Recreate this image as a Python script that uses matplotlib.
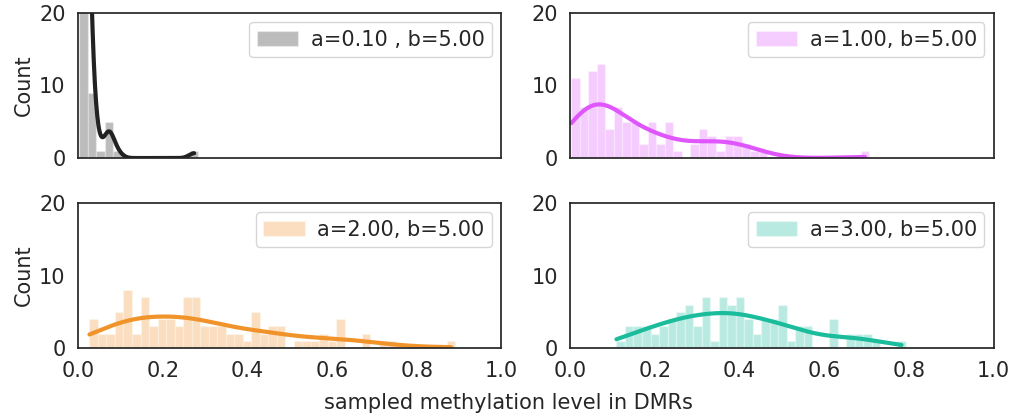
import numpy as np
import matplotlib
matplotlib.use("Agg")
from matplotlib import pyplot as plt

# histogram counts (100 samples per panel)
binwidth = 0.0201
bin_starts = [0.003, 0.0024, 0.027, 0.109]
counts_a010 = [83, 9, 1, 5, 1, 0, 0, 0, 0, 0, 0, 0, 0, 1]
counts_a100 = [11, 7, 12, 13, 4, 7, 5, 5, 2, 5, 2, 5, 1, 0, 2, 4, 3, 1, 3, 3, 2, 1, 1,
               0, 0, 0, 0, 0, 0, 0, 0, 0, 0, 0, 1]
counts_a200 = [4, 2, 2, 5, 8, 2, 7, 3, 4, 4, 3, 7, 7, 3, 3, 3, 2, 2, 1, 5, 2, 3, 3,
               0, 1, 1, 1, 2, 1, 4, 0, 0, 2, 0, 1, 1, 0, 0, 0, 0, 0, 0, 1]
counts_a300 = [1, 3, 3, 3, 2, 3, 4, 5, 6, 3, 7, 1, 7, 6, 7, 4, 2, 4, 4, 6, 1, 3, 3,
               0, 0, 4, 0, 2, 2, 2, 1, 0, 0, 1]
labels = ["a=0.10 , b=5.00", "a=1.00, b=5.00", "a=2.00, b=5.00", "a=3.00, b=5.00"]
colors = ["#222222", "#e056fd", "#f0932b", "#1abc9c"]
x_ticks = [0.0, 0.2, 0.4, 0.6, 0.8, 1.0]
y_ticks = [0, 10, 20]


def kde_curve(edges, counts, w):
    centers = (edges[:-1] + edges[1:]) / 2
    x = np.repeat(centers, counts)
    n = len(x)
    bw = x.std(ddof=1) * n ** (-1 / 5)
    grid = np.linspace(edges[0], edges[-1] - w / 2, 200)
    dens = np.exp(-0.5 * ((grid[:, None] - x[None, :]) / bw) ** 2).sum(1)
    dens = dens / (n * bw * np.sqrt(2 * np.pi))
    return grid, dens * n * w


plt.rcParams['font.family'] = ['DejaVu Sans']
plt.rcParams['text.color'] = '.15'
plt.rcParams['axes.labelcolor'] = '.15'
plt.rcParams['xtick.color'] = '.15'
plt.rcParams['ytick.color'] = '.15'

fig, axes = plt.subplots(2, 2, figsize=(10.16, 4.16), dpi=100, sharex=True)
fig.subplots_adjust(left=0.0768, right=0.978, bottom=0.163, top=0.969,
                    wspace=0.163, hspace=0.31)

all_counts = [counts_a010, counts_a100, counts_a200, counts_a300]
for i, ax in enumerate(axes.flat):
    cnt = np.array(all_counts[i])
    edges = bin_starts[i] + binwidth * np.arange(len(cnt) + 1)
    ax.bar(edges[:-1], cnt, width=binwidth, align='edge', color=colors[i],
           alpha=0.3, edgecolor='white', linewidth=1, label=labels[i])
    gx, gy = kde_curve(edges, cnt, binwidth)
    ax.plot(gx, gy, color=colors[i], lw=3, solid_capstyle='round')
    ax.set_xlim(0, 1)
    ax.set_ylim(0, 20)
    ax.set_xticks(x_ticks)
    ax.set_yticks(y_ticks)
    ax.tick_params(length=0, labelsize=15, pad=9)
    for sp in ax.spines.values():
        sp.set_color('.15')
        sp.set_linewidth(1.25)
    ax.legend(loc='upper right', fontsize=15, fancybox=True, edgecolor='0.8',
              framealpha=0.8, handletextpad=0.6, borderpad=0.35,
              borderaxespad=0.45)
    if i % 2 == 0:
        ax.set_ylabel('Count', fontsize=15)

fig.text(0.5, 0.031, 'sampled methylation level in DMRs', ha='center',
         va='center', fontsize=15)

fig.savefig('out.png', dpi=100)
